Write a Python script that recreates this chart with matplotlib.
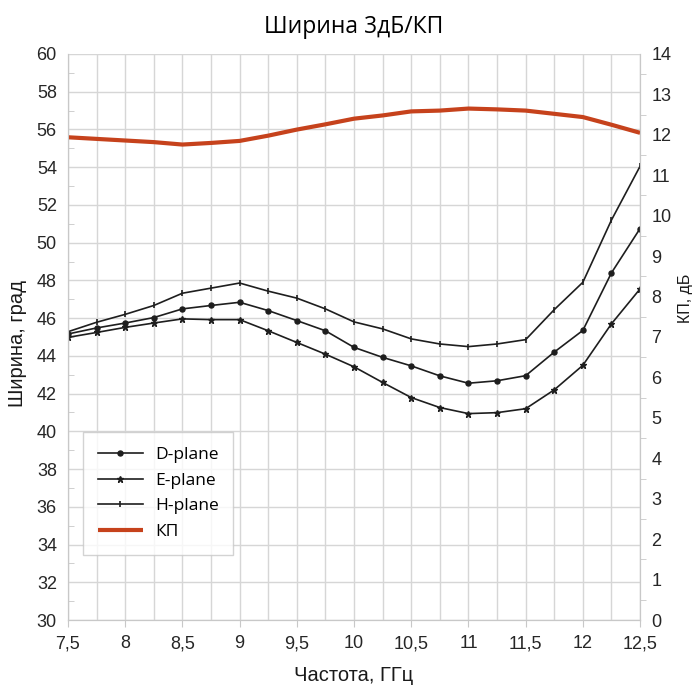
import numpy as np
import matplotlib
matplotlib.use("Agg")
import matplotlib.pyplot as plt
from matplotlib.ticker import MultipleLocator, FuncFormatter

# frequency grid, GHz
freq = [7.5, 7.75, 8.0, 8.25, 8.5, 8.75, 9.0, 9.25, 9.5, 9.75, 10.0,
        10.25, 10.5, 10.75, 11.0, 11.25, 11.5, 11.75, 12.0, 12.25, 12.5]

# 3 dB beamwidth, degrees
d_plane = [45.16, 45.48, 45.74, 46.03, 46.49, 46.67, 46.84, 46.40, 45.87, 45.33, 44.45,
           43.92, 43.47, 42.94, 42.55, 42.68, 42.95, 44.20, 45.35, 48.40, 50.75]
e_plane = [44.98, 45.24, 45.51, 45.74, 45.96, 45.92, 45.92, 45.33, 44.71, 44.09, 43.42,
           42.59, 41.79, 41.26, 40.94, 40.99, 41.20, 42.20, 43.50, 45.70, 47.55]
h_plane = [45.28, 45.78, 46.20, 46.67, 47.32, 47.59, 47.86, 47.43, 47.06, 46.49, 45.80,
           45.43, 44.90, 44.63, 44.49, 44.63, 44.86, 46.45, 47.90, 51.20, 54.05]

# gain, dB
kp = [11.94, 11.90, 11.86, 11.82, 11.76, 11.80, 11.85, 11.98, 12.13, 12.26, 12.40,
      12.48, 12.58, 12.60, 12.65, 12.63, 12.60, 12.52, 12.44, 12.25, 12.05]

tick_font = "Liberation Sans"
text_font = ["Open Sans", "DejaVu Sans"]

fig = plt.figure(figsize=(6.98, 6.86), dpi=100)
ax = fig.add_axes([0.0974, 0.0962, 0.8196, 0.8251])
ax2 = ax.twinx()

ink = "#1e1e1e"
l1, = ax.plot(freq, d_plane, color=ink, lw=1.2, marker="o", ms=3.6, label="D-plane")
l2, = ax.plot(freq, e_plane, color=ink, lw=1.2, marker="*", ms=4.5, label="E-plane")
l3, = ax.plot(freq, h_plane, color=ink, lw=1.2, marker="|", ms=5, mew=1.2, label="H-plane")
l4, = ax2.plot(freq, kp, color="#c6421c", lw=3, solid_capstyle="butt", label="КП")

ax.set_xlim(7.5, 12.5)
ax.set_ylim(30, 60)
ax2.set_ylim(0, 14)

ax.xaxis.set_major_locator(MultipleLocator(0.5))
ax.xaxis.set_minor_locator(MultipleLocator(0.25))
ax.yaxis.set_major_locator(MultipleLocator(2))
ax.yaxis.set_minor_locator(MultipleLocator(1))
ax2.yaxis.set_major_locator(MultipleLocator(1))
ax2.yaxis.set_minor_locator(MultipleLocator(0.5))

comma = FuncFormatter(lambda v, p: f"{v:g}".replace(".", ","))
ax.xaxis.set_major_formatter(comma)

ax.grid(True, which="both", axis="x", color="#d6d6d6", lw=1)
ax.grid(True, which="major", axis="y", color="#d6d6d6", lw=1)
ax.set_axisbelow(True)

for a in (ax, ax2):
    for s in a.spines.values():
        s.set_color("#c8c8c8")
    a.spines["top"].set_visible(False)

ax.tick_params(axis="x", which="major", length=5, color="#c8c8c8", labelsize=13, pad=6)
ax.tick_params(axis="x", which="minor", length=0)
ax.tick_params(axis="y", which="major", length=0, labelsize=13, pad=8)
ax.tick_params(axis="y", which="minor", direction="in", length=4, color="#c8c8c8")
ax2.tick_params(axis="y", which="major", length=0, labelsize=13, pad=8)
ax2.tick_params(axis="y", which="minor", direction="out", length=4, color="#c8c8c8")
for lab in ax.get_xticklabels() + ax.get_yticklabels() + ax2.get_yticklabels():
    lab.set_fontfamily(tick_font)
    lab.set_color("#262626")

ax.set_xlabel("Частота, ГГц", fontsize=14.5, family=tick_font, color="#1a1a1a")
ax.xaxis.set_label_coords(0.5, -0.081)
ax.set_ylabel("Ширина, град", fontsize=14.5, family=tick_font, color="#1a1a1a")
ax.yaxis.set_label_coords(-0.0717, 0.489)
ax2.set_ylabel("КП, дБ", fontsize=11.5, family=tick_font, color="#1a1a1a")
ax2.yaxis.set_label_coords(1.066, 0.569)
ax.set_title("Ширина 3дБ/КП", fontsize=16.5, family=text_font, pad=15)

leg = ax.legend(handles=[l1, l2, l3, l4], loc="lower left",
                bbox_to_anchor=(0.026, 0.115), borderaxespad=0, frameon=True,
                fancybox=False, edgecolor="#c8c8c8", handlelength=2.6,
                handletextpad=0.7, borderpad=0.85, labelspacing=0.55,
                prop={"family": text_font, "size": 12.5})
leg.get_frame().set_linewidth(1)

fig.savefig("out.png", dpi=100, facecolor="white")
